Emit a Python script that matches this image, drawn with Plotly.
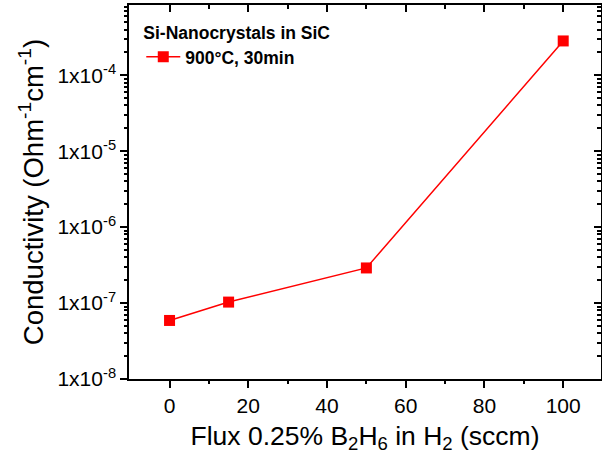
import numpy as np
import plotly.graph_objects as go

flux = [0, 15, 50, 100]
conductivity = [5.9e-8, 1.03e-7, 2.9e-7, 2.83e-4]
series_name = "900°C, 30min"
legend_title = "Si-Nanocrystals in SiC"
y_tick_exps = [-8, -7, -6, -5, -4]
y_tick_text = [f"1x10<sup>{e}</sup>" for e in y_tick_exps]
x_ticks = [0, 20, 40, 60, 80, 100]
x_minor = [10, 30, 50, 70, 90]

FONT = "Liberation Sans, Arial, sans-serif"
red = "#ff0000"

fig = go.Figure()
fig.add_trace(go.Scatter(
    x=flux, y=conductivity, mode="lines+markers", name=series_name,
    line=dict(color=red, width=1.5),
    marker=dict(symbol="square", size=11, color=red),
))
# invisible traces anchoring the overlay axes (frame ticks)
for xa, ya in [("x2", "y2"), ("x3", "y3"), ("x4", "y4")]:
    fig.add_trace(go.Scatter(x=flux, y=conductivity, xaxis=xa, yaxis=ya,
                             mode="markers", marker=dict(opacity=0),
                             showlegend=False, hoverinfo="skip"))

minor_y = [m * 10.0 ** e for e in range(-8, -2) for m in range(2, 10)]
major_y = [10.0 ** e for e in y_tick_exps]
xr = [-10.3, 109.6]
yr = [-8, -3.075]

common = dict(tickcolor="black", tickwidth=2, showgrid=False, zeroline=False)

fig.update_layout(
    template="none",
    width=602, height=466,
    margin=dict(l=129, r=1, t=5, b=87),
    plot_bgcolor="white", paper_bgcolor="white",
    font=dict(family=FONT, color="black"),
    showlegend=True,
    legend=dict(
        x=0.026, y=0.97, xanchor="left", yanchor="top",
        bgcolor="rgba(0,0,0,0)",
        font=dict(size=17.5, family=FONT, weight="bold"),
        title=dict(text="<b>" + legend_title + "</b>", font=dict(size=17.5, family=FONT)),
        itemwidth=34, tracegroupgap=0,
    ),
    xaxis=dict(
        range=xr, tickvals=x_ticks, ticks="outside", ticklen=7,
        showline=True, linecolor="black", linewidth=1.5, tickfont=dict(size=21),
        title=dict(text="Flux 0.25% B<sub>2</sub>H<sub>6</sub> in H<sub>2</sub> (sccm)",
                   font=dict(size=26.5), standoff=10),
        **common,
    ),
    yaxis=dict(
        type="log", range=yr, tickvals=major_y, ticktext=y_tick_text,
        ticks="outside", ticklen=7,
        showline=True, linecolor="black", linewidth=1.5, tickfont=dict(size=21),
        title=dict(text="Conductivity (Ohm<sup>-1</sup>cm<sup>-1</sup>)", font=dict(size=27.5), standoff=6),
        **common,
    ),
    xaxis2=dict(
        overlaying="x", anchor="y2", side="top", range=xr, tickvals=x_ticks, ticks="inside", ticklen=7,
        showline=True, linecolor="black", linewidth=1.5, showticklabels=False, **common,
    ),
    yaxis2=dict(
        overlaying="y", anchor="x2", side="right", type="log", range=yr, tickvals=major_y,
        ticks="inside", ticklen=7,
        showline=True, linecolor="black", linewidth=1.5, showticklabels=False, **common,
    ),
    xaxis3=dict(
        overlaying="x", anchor="y3", side="bottom", range=xr, tickvals=x_minor, ticks="outside", ticklen=4,
        showline=False, showticklabels=False, **common,
    ),
    yaxis3=dict(
        overlaying="y", anchor="x3", side="left", type="log", range=yr, tickvals=minor_y,
        ticks="outside", ticklen=4, showline=False, showticklabels=False, **common,
    ),
    xaxis4=dict(
        overlaying="x", anchor="y4", side="top", range=xr, tickvals=x_minor, ticks="inside", ticklen=4,
        showline=False, showticklabels=False, **common,
    ),
    yaxis4=dict(
        overlaying="y", anchor="x4", side="right", type="log", range=yr, tickvals=minor_y,
        ticks="inside", ticklen=4, showline=False, showticklabels=False, **common,
    ),
)

fig.write_html("out.html")
